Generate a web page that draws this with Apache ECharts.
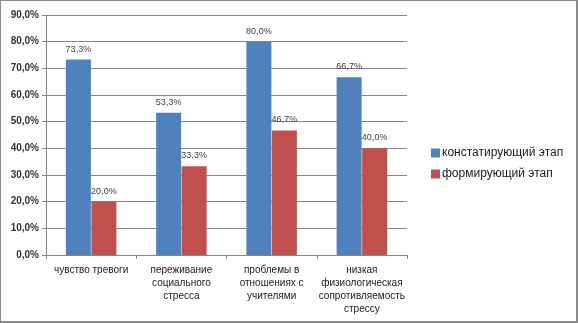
<!DOCTYPE html>
<html>
<head>
<meta charset="utf-8">
<script src="https://cdn.jsdelivr.net/npm/echarts@6/dist/echarts.min.js"></script>
<style>
  html, body { margin: 0; padding: 0; background: #fff; }
  #chart {
    width: 578px; height: 323px; box-sizing: border-box;
    border-style: solid; border-color: #8c8c8c;
    border-width: 1px 2px 2px 1px;
  }
</style>
</head>
<body>
<div id="chart"></div>
<script>
const categories = [
  'чувство тревоги',
  'переживание\nсоциального\nстресса',
  'проблемы в\nотношениях с\nучителями',
  'низкая\nфизиологическая\nсопротивляемость\nстрессу'
];
const seriesNames = ['констатирующий этап', 'формирующий этап'];
const stage1 = [73.3, 53.3, 80.0, 66.7];
const stage2 = [20.0, 33.3, 46.7, 40.0];

const BLUE = '#4F81BD';
const RED = '#C0504D';
const FONT = 'Liberation Sans, Arial, sans-serif';

const pct = (v) => v.toFixed(1).replace('.', ',') + '%';

const labelStyle = {
  show: true,
  position: 'top',
  distance: 6,
  fontSize: 9,
  fontFamily: FONT,
  color: '#404040',
  formatter: (p) => pct(p.value)
};

const chart = echarts.init(document.getElementById('chart'));

chart.setOption({
  animation: false,
  textStyle: {fontFamily: FONT},
  grid: {left: 45, right: 169, top: 14, bottom: 66},
  legend: {
    orient: 'vertical',
    left: 425,
    top: 141,
    itemWidth: 9,
    itemHeight: 9,
    itemGap: 9,
    icon: 'rect',
    textStyle: {fontSize: 12, color: '#1a1a1a', fontFamily: FONT, padding: [0, 0, 0, -3]},
    data: seriesNames
  },
  xAxis: {
    type: 'category',
    data: categories,
    axisLine: {lineStyle: {color: '#868686'}},
    axisTick: {show: true, length: 4, lineStyle: {color: '#868686'}},
    axisLabel: {
      interval: 0,
      margin: 9,
      fontSize: 10,
      lineHeight: 13,
      color: '#1a1a1a',
      fontFamily: FONT
    }
  },
  yAxis: {
    type: 'value',
    min: 0,
    max: 90,
    interval: 10,
    axisLine: {show: true, lineStyle: {color: '#868686'}},
    axisTick: {show: true, length: 4, lineStyle: {color: '#868686'}},
    splitLine: {lineStyle: {color: '#868686'}},
    axisLabel: {
      margin: 7,
      fontSize: 10,
      fontWeight: 'bold',
      color: '#333',
      fontFamily: FONT,
      formatter: (v) => pct(v)
    }
  },
  series: [
    {
      name: seriesNames[0],
      type: 'bar',
      data: stage1,
      barWidth: 25,
      barGap: '2%',
      itemStyle: {color: BLUE},
      label: labelStyle
    },
    {
      name: seriesNames[1],
      type: 'bar',
      data: stage2,
      barWidth: 25,
      itemStyle: {color: RED},
      label: labelStyle
    }
  ]
});
</script>
</body>
</html>
